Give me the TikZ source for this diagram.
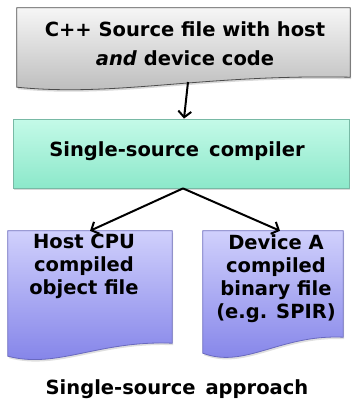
\documentclass[tikz,border=0pt]{standalone}
\usepackage{fontspec}
\setmainfont{DejaVu Sans}
\usetikzlibrary{arrows.meta,shadows,calc}

\definecolor{srcTop}{RGB}{246,246,246}
\definecolor{srcBot}{RGB}{185,185,185}
\definecolor{compTop}{RGB}{196,250,232}
\definecolor{compBot}{RGB}{140,232,202}
\definecolor{compLine}{RGB}{120,185,165}
\definecolor{binTop}{RGB}{208,208,252}
\definecolor{binBot}{RGB}{128,128,232}
\definecolor{binLine}{RGB}{105,105,190}

% outline of a page with a wavy lower edge, drawn round a named node
\newcommand{\pageoutline}[3]{%
  \path[#2] (#1.north west) -- (#1.north east) -- (#1.south east)
    .. controls ($(#1.south east)!0.45!(#1.south west)+(0,-3)$)
       and ($(#1.south west)!0.3!(#1.south east)+(0,#3*2)$)
    .. ($(#1.south west)+(0,#3)$) -- cycle;}

\begin{document}
\begin{tikzpicture}[
        x=1pt, y=-1pt,
        frame/.style={draw=none, fill=none, inner sep=0pt},
        label/.style={font=\fontsize{19.5}{23}\selectfont\bfseries, align=center, inner sep=0pt},
        srcpage/.style={draw=black!70, line width=0.8pt, top color=srcTop, bottom color=srcBot,
            drop shadow={shadow xshift=1pt, shadow yshift=-2pt, opacity=0.3}},
        binpage/.style={draw=binLine, line width=0.8pt, top color=binTop, bottom color=binBot,
            drop shadow={shadow xshift=1pt, shadow yshift=-2pt, opacity=0.25}},
        flow/.style={line width=2pt, -{Straight Barb[length=6pt, width=13pt]}}
    ]
    \useasboundingbox (0,0) rectangle (352,408);

    % --- Source file ---
    \node[frame, minimum width=333pt, minimum height=69pt] (src) at (183.5,42.5) {};
    \pageoutline{src}{srcpage}{10}
    \node[label, font=\fontsize{19.5}{29}\selectfont\bfseries] (srcText) at (185,44)
        {C++ Source file with host\\\textit{and} device code};

    % --- Compiler ---
    \node[draw=compLine, line width=0.8pt, top color=compTop, bottom color=compBot,
          minimum width=336pt, minimum height=69pt,
          drop shadow={shadow xshift=1pt, shadow yshift=-2pt, opacity=0.3}] (comp) at (181,153.5) {};
    \node[label] (compText) at (177,151) {Single-source\, compiler};

    % --- Output files ---
    \node[frame, minimum width=164pt, minimum height=112pt] (host) at (90,287) {};
    \pageoutline{host}{binpage}{13}
    \node[label, anchor=north] (hostText) at (84,234) {Host CPU\\compiled\\object file};

    \node[frame, minimum width=140pt, minimum height=106pt] (dev) at (273,284) {};
    \pageoutline{dev}{binpage}{16}
    \node[label, anchor=north] (devText) at (276,234) {Device A\\compiled\\binary file\\(e.g. SPIR)};

    % --- Arrows ---
    \coordinate (srcOut) at (188,82);
    \draw[flow] (srcOut) -- ([xshift=3pt]comp.north);
    \draw[flow] ([xshift=2pt]comp.south) -- (host.north);
    \draw[flow] ([xshift=2pt]comp.south) -- ([xshift=7pt]dev.north);

    % --- Caption ---
    \node[label] (caption) at (177,389) {Single-source\, approach};
\end{tikzpicture}
\end{document}
